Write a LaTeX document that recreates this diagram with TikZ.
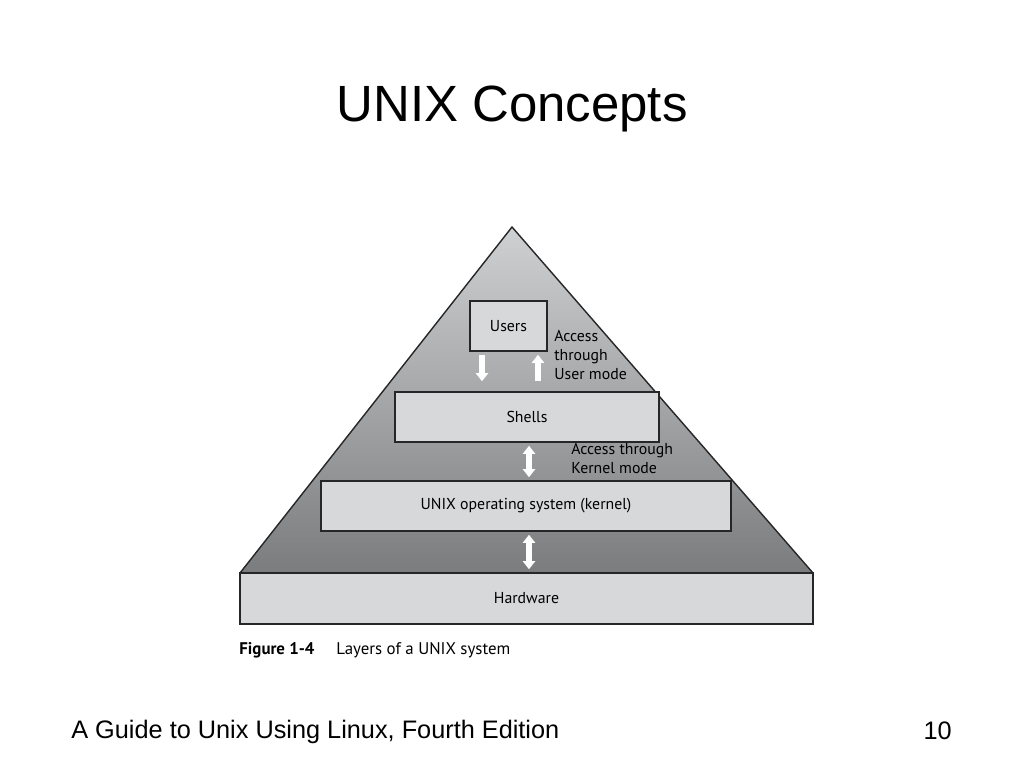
\documentclass[tikz,border=0pt]{standalone}
\usepackage{fontspec}
\setmainfont{Liberation Sans}
\newfontfamily\figfont{PT Sans}
\usetikzlibrary{arrows.meta,calc}

\definecolor{pyrtop}{RGB}{206,208,210}
\definecolor{pyrbot}{RGB}{122,124,126}
\definecolor{layerfill}{RGB}{214,216,217}

\begin{document}
\begin{tikzpicture}[
    x=0.02cm, y=-0.02cm,
    layer/.style={rectangle, draw=black!85, line width=0.9pt, fill=layerfill, inner sep=0pt, font=\figfont\fontsize{9}{10.8}\selectfont},
    modetext/.style={align=left, inner sep=0pt, font=\figfont\fontsize{9}{10.8}\selectfont},
    blockarrow/.style={draw=white, line width=3.6pt, -{Triangle[length=0.16cm, width=0.24cm]}},
    dblarrow/.style={draw=white, line width=3.6pt, {Triangle[length=0.16cm, width=0.24cm]}-{Triangle[length=0.16cm, width=0.24cm]}}
  ]
    \useasboundingbox (0,0) rectangle (1024,768);

    % Title
    \node[font=\fontsize{29}{34}\selectfont] (title) at (512,109) {UNIX Concepts};

    % Pyramid
    \coordinate (apex) at (512,227);
    \coordinate (baseL) at (240,573);
    \coordinate (baseR) at (813,573);
    \shade[top color=pyrtop, bottom color=pyrbot] (apex) -- (baseL) -- (baseR) -- cycle;
    \draw[line width=0.8pt, black!85] (baseL) -- (apex) -- (baseR);

    % Layers
    \node[layer, minimum width=11.46cm, minimum height=1.02cm] (hardware) at (526.5,598.5) {Hardware};
    \node[layer, minimum width=8.2cm, minimum height=1cm] (kernel) at (526,506) {UNIX operating system (kernel)};
    \node[layer, minimum width=5.28cm, minimum height=1cm] (shells) at (527,417) {Shells};
    \node[layer, minimum width=1.54cm, minimum height=1cm] (users) at (508.5,326) {Users};

    % Access arrows
    \draw[blockarrow] ([xshift=-0.53cm,yshift=-0.06cm]users.south) -- ([xshift=-0.53cm,yshift=0.2cm]users.south |- shells.north);
    \draw[blockarrow] ([xshift=0.59cm,yshift=0.2cm]users.south |- shells.north) -- ([xshift=0.59cm,yshift=-0.06cm]users.south);
    \draw[dblarrow] ([xshift=0.04cm,yshift=-0.06cm]shells.south) -- ([xshift=0.04cm,yshift=0.06cm]shells.south |- kernel.north);
    \draw[dblarrow] ([xshift=0.06cm,yshift=-0.06cm]kernel.south) -- ([xshift=0.06cm,yshift=0.06cm]kernel.south |- hardware.north);

    % Mode labels
    \node[modetext, anchor=north west] (usermode) at (554,330) {Access\\through\\User mode};
    \node[modetext, anchor=north west] (kernelmode) at (571,443) {Access through\\Kernel mode};

    % Caption
    \node[anchor=base west, inner sep=0pt, font=\figfont\fontsize{9.6}{11}\selectfont\bfseries] (fignum) at (239,654) {Figure 1-4};
    \node[anchor=base west, inner sep=0pt, font=\figfont\fontsize{9.6}{11}\selectfont] (figcap) at (336,654) {Layers of a UNIX system};

    % Footer
    \node[anchor=base west, inner sep=0pt, font=\fontsize{14.4}{17}\selectfont] (book) at (71,738) {A Guide to Unix Using Linux, Fourth Edition};
    \node[anchor=base east, inner sep=0pt, font=\fontsize{14.4}{17}\selectfont] (page) at (952,739) {10};
\end{tikzpicture}
\end{document}
